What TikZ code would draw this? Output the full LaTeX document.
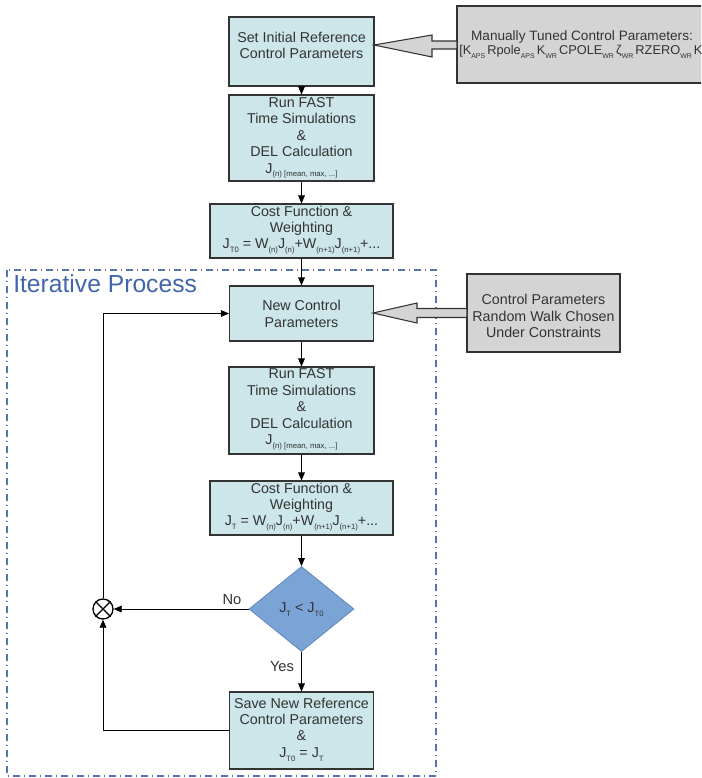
\documentclass[tikz,border=0pt]{standalone}
\usepackage{fontspec}
\setmainfont{Liberation Sans}
\usetikzlibrary{arrows.meta,shapes.geometric}
\definecolor{cyanfill}{HTML}{CCE6E9}
\definecolor{greyfill}{HTML}{D4D4D4}
\definecolor{diafill}{HTML}{7BA4D6}
\definecolor{diadraw}{HTML}{5F88BC}
\definecolor{txt}{HTML}{333333}
\definecolor{iterblue}{HTML}{4266AA}
\definecolor{dashblue}{HTML}{5476B0}
\newcommand\sbs[1]{\raisebox{-0.5ex}{\fontsize{5.8pt}{5.8pt}\selectfont #1}}
\newcommand\sbx[1]{\raisebox{-0.5ex}{\fontsize{5.2pt}{5.2pt}\selectfont #1}\kern1.6pt}
\begin{document}
\begin{tikzpicture}[x=0.75pt,y=-0.75pt,
  cbox/.style={draw=txt,fill=cyanfill,line width=0.8pt,inner sep=0pt},
  gbox/.style={draw=txt,fill=greyfill,line width=0.8pt,inner sep=0pt},
  txtnode/.style={text=txt,align=center,inner sep=0pt,font=\fontsize{10.7pt}{12.3pt}\selectfont},
  flow/.style={draw=black,line width=0.6pt,-{Triangle[length=6pt,width=5pt]}},
  line/.style={draw=black,line width=0.6pt},
  bigarrow/.style={draw=txt,fill=greyfill,line width=0.8pt,line join=miter}]
\clip (0,0) rectangle (701,778);
\fill[white] (0,0) rectangle (701,778);

% dashed region
\draw[dashblue,line width=1pt,dash pattern=on 5pt off 3pt on 1pt off 3pt] (7,270) rectangle (436,776);
\node[anchor=base west,text=iterblue,inner sep=0pt,font=\fontsize{18.5pt}{18.5pt}\selectfont] (iter) at (13,292) {Iterative Process};

% boxes
\node[cbox,minimum width=108.75pt,minimum height=51.75pt] (b1) at (301.5,51.5) {};
\node[cbox,minimum width=108.75pt,minimum height=64.5pt] (b2) at (301.5,138) {};
\node[cbox,minimum width=137.25pt,minimum height=40.5pt] (b3) at (301.5,231) {};
\node[cbox,minimum width=108pt,minimum height=41.25pt] (b4) at (301.5,313.5) {};
\node[cbox,minimum width=108.75pt,minimum height=65.25pt] (b5) at (301.5,410.5) {};
\node[cbox,minimum width=137.25pt,minimum height=40.5pt] (b6) at (301.5,508) {};
\node[diamond,draw=diadraw,fill=diafill,line width=0.6pt,inner sep=0pt,minimum width=78.75pt,minimum height=63.75pt] (d) at (301.5,609) {};
\node[cbox,minimum width=108pt,minimum height=57.75pt] (b7) at (301.5,730.5) {};
\node[gbox,minimum width=227.25pt,minimum height=57.75pt] (g1) at (608.5,44.5) {};
\node[gbox,minimum width=114.75pt,minimum height=58.5pt] (g2) at (543.5,313) {};
\node[circle,draw=black,line width=1pt,minimum size=15pt,inner sep=0pt] (c) at (103,609) {};
\draw[black,line width=1pt] (c.north west) -- (c.south east) (c.north east) -- (c.south west);

% texts
\node[txtnode] (t1) at (301.5,45.5) {Set Initial Reference\\Control Parameters};
\node[txtnode] (t2) at (301.5,138) {Run FAST\\Time Simulations\\\&\\DEL Calculation\\J\sbs{(n) [mean, max, ...]}};
\node[txtnode] (t3) at (301.5,230) {Cost Function \&\\Weighting\\J\sbs{T0} = W\sbs{(n)}J\sbs{(n)}+W\sbs{(n+1)}J\sbs{(n+1)}+...};
\node[txtnode] (t4) at (301.5,314) {New Control\\Parameters};
\node[txtnode] (t5) at (301.5,409.5) {Run FAST\\Time Simulations\\\&\\DEL Calculation\\J\sbs{(n) [mean, max, ...]}};
\node[txtnode] (t6) at (301.5,507) {Cost Function \&\\Weighting\\J\sbs{T} = W\sbs{(n)}J\sbs{(n)}+W\sbs{(n+1)}J\sbs{(n+1)}+...};
\node[txtnode] (t7) at (301.5,610) {J\sbs{T} < J\sbs{T0}};
\node[txtnode] (t8) at (301.5,729.5) {Save New Reference\\Control Parameters\\\&\\J\sbs{T0} = J\sbs{T}};
\node[txtnode] (t9) at (543.5,316) {Control Parameters\\Random Walk Chosen\\Under Constraints};
\node[txtnode,font=\fontsize{10.2pt}{12pt}\selectfont] (t10) at (582,37) {Manually Tuned Control Parameters:};
\node[txtnode,anchor=west,font=\fontsize{9.6pt}{12pt}\selectfont] (t11) at (459,52) {[K\sbx{APS}Rpole\sbx{APS}K\sbx{WR}CPOLE\sbx{WR}ζ\sbx{WR}RZERO\sbx{WR}K\sbx{c}};

\node[text=txt,inner sep=0pt,font=\fontsize{11pt}{11pt}\selectfont] (no) at (232,600) {No};
\node[text=txt,inner sep=0pt,font=\fontsize{11pt}{11pt}\selectfont] (yes) at (282,667) {Yes};

% big hollow arrows
\draw[bigarrow] (374,45) -- (432,35) -- (432,41) -- (457,41) -- (457,49) -- (432,49) -- (432,57) -- cycle;
\draw[bigarrow] (373,313) -- (417,303) -- (417,308.5) -- (467,308.5) -- (467,317.5) -- (417,317.5) -- (417,323) -- cycle;

% flow connectors
\draw[flow] (b1.south) -- (b2.north);
\draw[flow] (b2.south) -- (b3.north);
\draw[flow] (b3.south) -- (b4.north);
\draw[flow] (b4.south) -- (b5.north);
\draw[flow] (b5.south) -- (b6.north);
\draw[flow] (b6.south) -- (d.north);
\draw[flow] (d.south) -- (b7.north);
\draw[flow] (d.west) -- (c.east);
\draw[flow] (b7.west) -| (c.south);
\draw[flow] (c.north) |- (b4.west);
\end{tikzpicture}
\end{document}
